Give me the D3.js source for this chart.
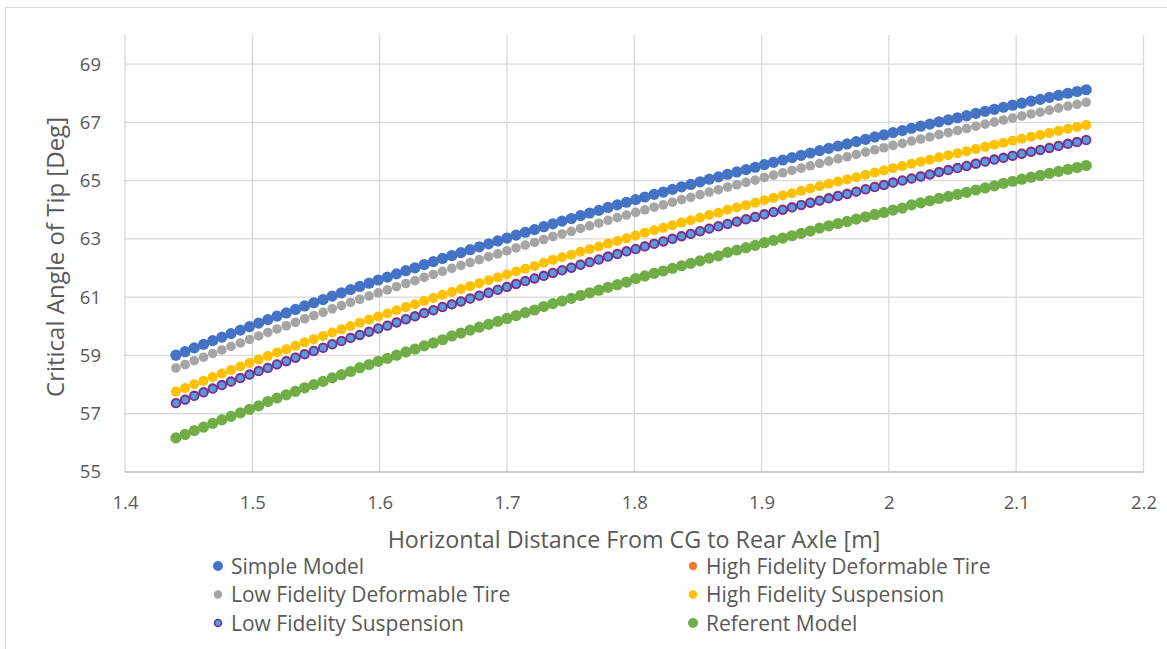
<html>
<head>
<meta charset="UTF-8">
<script src="https://d3js.org/d3.v7.min.js"></script>
<style>
  body { margin: 0; background: #ffffff; }
  text { font-family: "Open Sans", Lato, sans-serif; fill: #595959; }
</style>
</head>
<body>
<svg id="chart" width="1167" height="649"></svg>
<script>
// horizontal distance from CG to rear axle [m]
const distance = [
  1.4400, 1.4472, 1.4544, 1.4617, 1.4689, 1.4761, 1.4833, 1.4906, 1.4978, 1.5050,
  1.5122, 1.5194, 1.5267, 1.5339, 1.5411, 1.5483, 1.5556, 1.5628, 1.5700, 1.5772,
  1.5844, 1.5917, 1.5989, 1.6061, 1.6133, 1.6206, 1.6278, 1.6350, 1.6422, 1.6494,
  1.6567, 1.6639, 1.6711, 1.6783, 1.6856, 1.6928, 1.7000, 1.7072, 1.7144, 1.7217,
  1.7289, 1.7361, 1.7433, 1.7506, 1.7578, 1.7650, 1.7722, 1.7794, 1.7867, 1.7939,
  1.8011, 1.8083, 1.8156, 1.8228, 1.8300, 1.8372, 1.8444, 1.8517, 1.8589, 1.8661,
  1.8733, 1.8806, 1.8878, 1.8950, 1.9022, 1.9094, 1.9167, 1.9239, 1.9311, 1.9383,
  1.9456, 1.9528, 1.9600, 1.9672, 1.9744, 1.9817, 1.9889, 1.9961, 2.0033, 2.0106,
  2.0178, 2.0250, 2.0322, 2.0394, 2.0467, 2.0539, 2.0611, 2.0683, 2.0756, 2.0828,
  2.0900, 2.0972, 2.1044, 2.1117, 2.1189, 2.1261, 2.1333, 2.1406, 2.1478, 2.1550
];

// critical angle of tip [deg] per model
const simpleModel = [
  59.01, 59.13, 59.26, 59.38, 59.51, 59.63, 59.75, 59.87, 59.99, 60.11,
  60.23, 60.35, 60.46, 60.58, 60.70, 60.81, 60.92, 61.04, 61.15, 61.26,
  61.37, 61.48, 61.59, 61.69, 61.80, 61.91, 62.01, 62.12, 62.22, 62.33,
  62.43, 62.53, 62.63, 62.73, 62.83, 62.93, 63.03, 63.13, 63.23, 63.32,
  63.42, 63.52, 63.61, 63.70, 63.80, 63.89, 63.98, 64.08, 64.17, 64.26,
  64.35, 64.44, 64.53, 64.61, 64.70, 64.79, 64.87, 64.96, 65.05, 65.13,
  65.22, 65.30, 65.38, 65.46, 65.55, 65.63, 65.71, 65.79, 65.87, 65.95,
  66.03, 66.11, 66.19, 66.26, 66.34, 66.42, 66.50, 66.57, 66.65, 66.72,
  66.80, 66.87, 66.94, 67.02, 67.09, 67.16, 67.23, 67.31, 67.38, 67.45,
  67.52, 67.59, 67.66, 67.73, 67.79, 67.86, 67.93, 68.00, 68.06, 68.12
];
const lowFidTire = [
  58.57, 58.69, 58.82, 58.94, 59.07, 59.19, 59.31, 59.43, 59.55, 59.67,
  59.79, 59.91, 60.02, 60.14, 60.26, 60.37, 60.48, 60.60, 60.71, 60.82,
  60.93, 61.04, 61.15, 61.25, 61.36, 61.47, 61.57, 61.68, 61.78, 61.89,
  61.99, 62.09, 62.19, 62.29, 62.39, 62.49, 62.59, 62.69, 62.79, 62.88,
  62.98, 63.08, 63.17, 63.26, 63.36, 63.45, 63.54, 63.64, 63.73, 63.82,
  63.91, 64.00, 64.09, 64.17, 64.26, 64.35, 64.43, 64.52, 64.61, 64.69,
  64.78, 64.86, 64.94, 65.02, 65.11, 65.19, 65.27, 65.35, 65.43, 65.51,
  65.59, 65.67, 65.75, 65.82, 65.90, 65.98, 66.06, 66.13, 66.21, 66.28,
  66.36, 66.43, 66.50, 66.58, 66.65, 66.72, 66.79, 66.87, 66.94, 67.01,
  67.08, 67.15, 67.22, 67.29, 67.35, 67.42, 67.49, 67.56, 67.62, 67.69
];
const highFidSusp = [
  57.76, 57.88, 58.01, 58.13, 58.26, 58.38, 58.50, 58.62, 58.74, 58.86,
  58.98, 59.10, 59.21, 59.33, 59.45, 59.56, 59.67, 59.79, 59.90, 60.01,
  60.12, 60.23, 60.34, 60.44, 60.55, 60.66, 60.76, 60.87, 60.97, 61.08,
  61.18, 61.28, 61.38, 61.48, 61.58, 61.68, 61.78, 61.88, 61.98, 62.07,
  62.18, 62.28, 62.37, 62.46, 62.56, 62.65, 62.74, 62.84, 62.93, 63.02,
  63.12, 63.21, 63.30, 63.38, 63.47, 63.56, 63.64, 63.73, 63.82, 63.90,
  64.00, 64.08, 64.16, 64.24, 64.33, 64.41, 64.49, 64.57, 64.65, 64.73,
  64.81, 64.89, 64.97, 65.04, 65.12, 65.20, 65.28, 65.35, 65.43, 65.50,
  65.58, 65.65, 65.72, 65.80, 65.87, 65.94, 66.01, 66.09, 66.16, 66.23,
  66.30, 66.37, 66.44, 66.51, 66.57, 66.64, 66.71, 66.78, 66.84, 66.91
];
const lowFidSusp = [
  57.36, 57.48, 57.61, 57.73, 57.86, 57.98, 58.10, 58.22, 58.34, 58.46,
  58.57, 58.69, 58.80, 58.92, 59.04, 59.15, 59.26, 59.38, 59.49, 59.60,
  59.70, 59.81, 59.92, 60.02, 60.13, 60.24, 60.34, 60.45, 60.55, 60.66,
  60.75, 60.85, 60.95, 61.05, 61.15, 61.25, 61.35, 61.45, 61.55, 61.64,
  61.73, 61.83, 61.92, 62.01, 62.11, 62.20, 62.29, 62.39, 62.48, 62.57,
  62.65, 62.74, 62.83, 62.91, 63.00, 63.09, 63.17, 63.26, 63.35, 63.43,
  63.51, 63.59, 63.67, 63.75, 63.84, 63.92, 64.00, 64.08, 64.16, 64.24,
  64.31, 64.39, 64.47, 64.54, 64.62, 64.70, 64.78, 64.85, 64.93, 65.00,
  65.07, 65.14, 65.21, 65.29, 65.36, 65.43, 65.50, 65.58, 65.65, 65.72,
  65.78, 65.85, 65.92, 65.99, 66.05, 66.12, 66.19, 66.26, 66.32, 66.39
];
// high fidelity deformable tire sits right under the low fidelity suspension points
const highFidTire = [
  57.37, 57.49, 57.62, 57.74, 57.87, 57.99, 58.11, 58.23, 58.35, 58.47,
  58.58, 58.70, 58.81, 58.93, 59.05, 59.16, 59.27, 59.39, 59.50, 59.61,
  59.71, 59.82, 59.93, 60.03, 60.14, 60.25, 60.35, 60.46, 60.56, 60.67,
  60.76, 60.86, 60.96, 61.06, 61.16, 61.26, 61.36, 61.46, 61.56, 61.65,
  61.74, 61.84, 61.93, 62.02, 62.12, 62.21, 62.30, 62.40, 62.49, 62.58,
  62.66, 62.75, 62.84, 62.92, 63.01, 63.10, 63.18, 63.27, 63.36, 63.44,
  63.52, 63.60, 63.68, 63.76, 63.85, 63.93, 64.01, 64.09, 64.17, 64.25,
  64.32, 64.40, 64.48, 64.55, 64.63, 64.71, 64.79, 64.86, 64.94, 65.01,
  65.08, 65.15, 65.22, 65.30, 65.37, 65.44, 65.51, 65.59, 65.66, 65.73,
  65.79, 65.86, 65.93, 66.00, 66.06, 66.13, 66.20, 66.27, 66.33, 66.40
];
const referentModel = [
  56.17, 56.29, 56.42, 56.54, 56.67, 56.79, 56.91, 57.03, 57.15, 57.27,
  57.42, 57.54, 57.65, 57.77, 57.89, 58.00, 58.11, 58.23, 58.34, 58.45,
  58.58, 58.69, 58.80, 58.90, 59.01, 59.12, 59.22, 59.33, 59.43, 59.54,
  59.67, 59.77, 59.87, 59.97, 60.07, 60.17, 60.27, 60.37, 60.47, 60.56,
  60.68, 60.78, 60.87, 60.96, 61.06, 61.15, 61.24, 61.34, 61.43, 61.52,
  61.64, 61.73, 61.82, 61.90, 61.99, 62.08, 62.16, 62.25, 62.34, 62.42,
  62.54, 62.62, 62.70, 62.78, 62.87, 62.95, 63.03, 63.11, 63.19, 63.27,
  63.37, 63.45, 63.53, 63.60, 63.68, 63.76, 63.84, 63.91, 63.99, 64.06,
  64.17, 64.24, 64.31, 64.39, 64.46, 64.53, 64.60, 64.68, 64.75, 64.82,
  64.91, 64.98, 65.05, 65.12, 65.18, 65.25, 65.32, 65.39, 65.45, 65.52
];

const xTicks = [1.4, 1.5, 1.6, 1.7, 1.8, 1.9, 2, 2.1, 2.2];
const yTicks = [55, 57, 59, 61, 63, 65, 67, 69];

// series in excel drawing order (later ones on top)
const series = [
  { name: 'Simple Model', values: simpleModel, fill: '#4472C4', stroke: 'none', r: 5.6 },
  { name: 'High Fidelity Deformable Tire', values: highFidTire, fill: '#ED7D31', stroke: 'none', r: 5.2 },
  { name: 'Low Fidelity Deformable Tire', values: lowFidTire, fill: '#A5A5A5', stroke: 'none', r: 4.8 },
  { name: 'High Fidelity Suspension', values: highFidSusp, fill: '#FFC000', stroke: 'none', r: 5 },
  { name: 'Low Fidelity Suspension', values: lowFidSusp, fill: '#5B9BD5', stroke: '#7030A0', r: 4.2 },
  { name: 'Referent Model', values: referentModel, fill: '#70AD47', stroke: 'none', r: 5.6 }
];

const svg = d3.select('svg#chart');

// chart frame
svg.append('rect')
   .attr('x', 5.5).attr('y', 7.5)
   .attr('width', 1200).attr('height', 700)
   .attr('fill', 'white')
   .attr('stroke', '#d9d9d9')
   .attr('stroke-width', 1.2);

const x = d3.scaleLinear().domain([1.4, 2.2]).range([125, 1143.5]);
const y = d3.scaleLinear().domain([55, 70]).range([472, 35]);

// gridlines
svg.append('g')
   .selectAll('line.h')
   .data(yTicks.slice(1))
   .join('line')
   .attr('x1', x(1.4)).attr('x2', x(2.2))
   .attr('y1', d => y(d)).attr('y2', d => y(d))
   .attr('stroke', '#d9d9d9').attr('stroke-width', 1.3);

svg.append('g')
   .selectAll('line.v')
   .data(xTicks)
   .join('line')
   .attr('x1', d => x(d)).attr('x2', d => x(d))
   .attr('y1', y(70)).attr('y2', y(55))
   .attr('stroke', '#d9d9d9').attr('stroke-width', 1.3);

// x axis line
svg.append('line')
   .attr('x1', x(1.4)).attr('x2', x(2.2))
   .attr('y1', y(55)).attr('y2', y(55))
   .attr('stroke', '#bfbfbf').attr('stroke-width', 1.3);

// axes (labels only)
const xAxis = svg.append('g')
   .attr('transform', `translate(0,${y(55)})`)
   .call(d3.axisBottom(x).tickValues(xTicks).tickFormat(d3.format('')).tickSize(0).tickPadding(24));
const yAxis = svg.append('g')
   .attr('transform', `translate(${x(1.4)},0)`)
   .call(d3.axisLeft(y).tickValues(yTicks).tickSize(0).tickPadding(24));
[xAxis, yAxis].forEach(g => {
  g.select('.domain').remove();
  g.selectAll('text').style('font-size', '18.5px').attr('fill', '#595959')
   .style('font-family', '"Open Sans", Lato, sans-serif');
});

// axis titles
svg.append('text')
   .attr('x', 634).attr('y', 548)
   .attr('text-anchor', 'middle')
   .style('font-size', '23.3px')
   .text('Horizontal Distance From CG to Rear Axle [m]');

svg.append('text')
   .attr('transform', 'translate(64,257) rotate(-90)')
   .attr('text-anchor', 'middle')
   .style('font-size', '24px')
   .text('Critical Angle of Tip [Deg]');

// points
series.forEach(s => {
  svg.append('g')
     .selectAll('circle')
     .data(distance)
     .join('circle')
     .attr('cx', d => x(d))
     .attr('cy', (d, i) => y(s.values[i]))
     .attr('r', s.r)
     .attr('fill', s.fill)
     .attr('stroke', s.stroke)
     .attr('stroke-width', s.stroke === 'none' ? 0 : 1.8);
});

// legend, two columns in excel order
const legend = svg.append('g');
series.forEach((s, i) => {
  const col = i % 2, row = Math.floor(i / 2);
  const lx = col === 0 ? 218 : 693;
  const ly = 566 + row * 28.5;
  legend.append('circle')
        .attr('cx', lx).attr('cy', ly)
        .attr('r', s.stroke === 'none' ? (i === 0 || i === 5 ? 5 : 4.2) : 3.5)
        .attr('fill', s.fill)
        .attr('stroke', s.stroke)
        .attr('stroke-width', s.stroke === 'none' ? 0 : 1.6);
  legend.append('text')
        .attr('x', lx + 13).attr('y', ly + 7.5)
        .style('font-size', '21px')
        .text(s.name);
});
</script>
</body>
</html>
